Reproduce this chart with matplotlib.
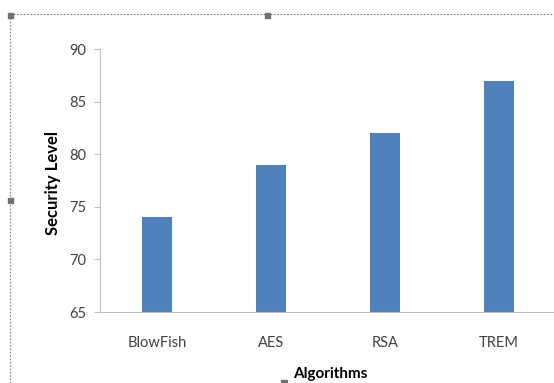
import matplotlib.pyplot as plt
from matplotlib.lines import Line2D
from matplotlib.patches import Rectangle

algorithms = ["BlowFish", "AES", "RSA", "TREM"]
security = [74, 79, 82, 87]

plt.rcParams['font.family'] = ['Lato', 'DejaVu Sans']

fig = plt.figure(figsize=(5.54, 3.83), dpi=100)
ax = fig.add_axes([100 / 554, 1 - 312 / 383, 456 / 554, (312 - 49) / 383])

x = range(len(algorithms))
ax.bar(x, security, width=0.27, color='#4F81BD', zorder=2)
ax.set_xlim(-0.5, len(algorithms) - 0.5)
ax.set_ylim(65, 90)
ax.set_yticks([65, 70, 75, 80, 85, 90])
ax.set_xticks(list(x))
ax.set_xticklabels(algorithms)

for s in ['top', 'right']:
    ax.spines[s].set_visible(False)
for s in ['left', 'bottom']:
    ax.spines[s].set_color('#BFBFBF')
ax.tick_params(axis='y', colors='#BFBFBF', labelcolor='#404040', labelsize=10.5, length=4, pad=6)
ax.tick_params(axis='x', length=0, labelcolor='#404040', labelsize=10.5, pad=17)

fig.text(53 / 554, 1 - 183 / 383, "Security Level", fontsize=12, fontweight='bold',
         rotation=90, ha='center', va='center')
fig.text(293 / 554, 1 - 374 / 383, "Algorithms", fontsize=11, fontweight='bold',
         ha='left', va='center')

# dashed selection frame from the source screenshot
dash = dict(color='#808080', linestyle=(0, (1.5, 1.5)), linewidth=0.8)
fig.add_artist(Line2D([10 / 554, 1], [1 - 14 / 383] * 2, transform=fig.transFigure, **dash))
fig.add_artist(Line2D([10 / 554] * 2, [0, 1 - 14 / 383], transform=fig.transFigure, **dash))
for px, py, w, h in [(10, 15, 5, 5), (267, 15, 5, 5), (10, 200, 5, 5), (284, 381, 6, 2)]:
    fig.add_artist(Rectangle(((px - w / 2) / 554, 1 - (py + h / 2) / 383), w / 554, h / 383,
                             transform=fig.transFigure, color='#707070'))

fig.savefig("out.png", dpi=100)
